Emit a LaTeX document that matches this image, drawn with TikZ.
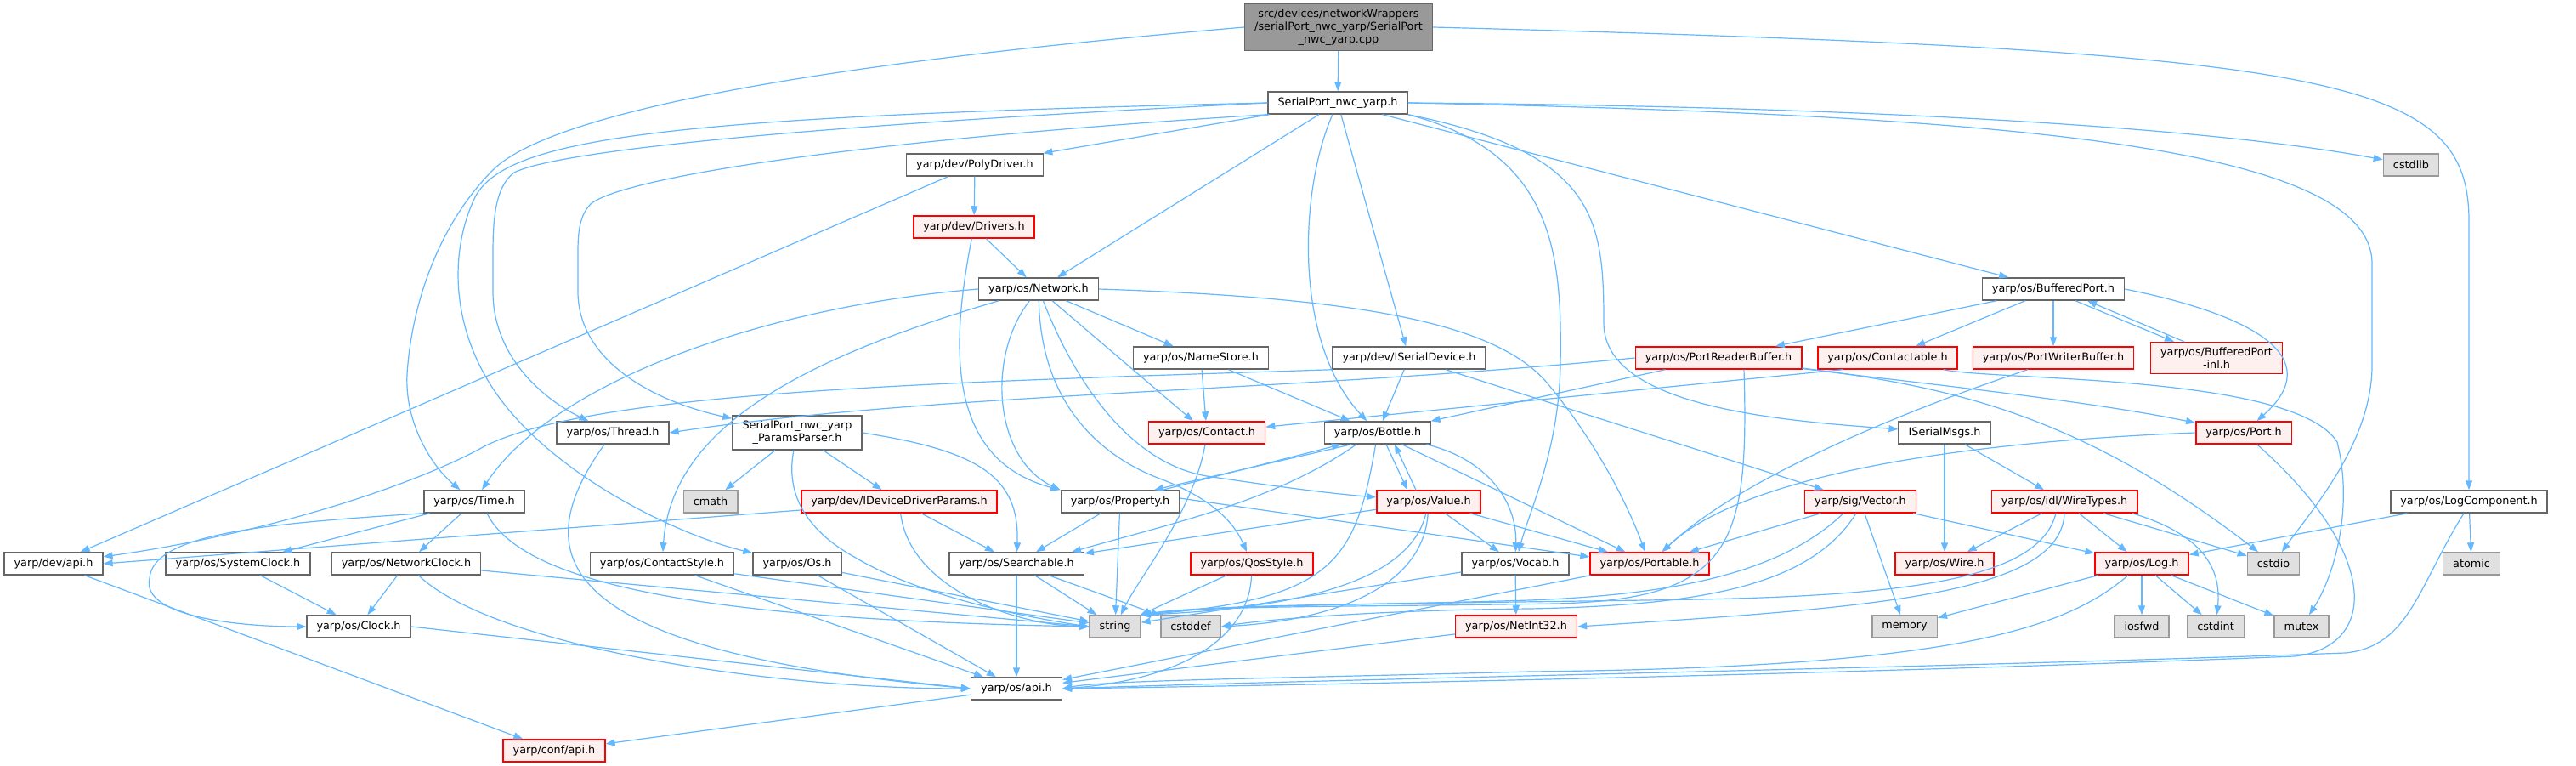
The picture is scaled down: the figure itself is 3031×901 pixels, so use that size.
\documentclass[tikz,border=0pt]{standalone}
\usepackage{fontspec}
\newfontfamily\graphfont{DejaVu Sans}
\definecolor{edgeblue}{RGB}{99,184,255}
\definecolor{boxline}{RGB}{102,102,102}
\definecolor{sysfill}{RGB}{224,224,224}
\definecolor{sysline}{RGB}{153,153,153}
\definecolor{rootfill}{RGB}{153,153,153}
\definecolor{redline}{RGB}{255,0,0}
\definecolor{redfill}{RGB}{255,240,240}
\usetikzlibrary{arrows.meta}

\begin{document}
\begin{tikzpicture}[x=1pt, y=1pt,
    arr/.style={-{Triangle[length=11pt,width=8pt]}, edgeblue, line width=1.2pt},
    file/.style={draw=boxline, fill=white, line width=1.5pt, align=center,
                 font=\graphfont\fontsize{12.8pt}{15pt}\selectfont,
                 inner xsep=11.5pt, inner ysep=6pt, minimum height=26pt},
    redfile/.style={file, draw=redline, fill=redfill},
    sysfile/.style={file, draw=sysline, fill=sysfill},
    rootfile/.style={file, draw=boxline, fill=rootfill}
  ]
  \useasboundingbox (0,0) rectangle (3031,-901);
  \fill[white] (0,0) rectangle (3031,-901);

  \node[rootfile] (root) at (1575,-32) {src/devices/networkWrappers\\/serialPort\_nwc\_yarp/SerialPort\\\_nwc\_yarp.cpp};
  \node[file] (sp) at (1574,-121) {SerialPort\_nwc\_yarp.h};
  \node[file] (poly) at (1147,-194) {yarp/dev/PolyDriver.h};
  \node[sysfile] (cstdlib) at (2837,-194) {cstdlib};
  \node[redfile] (drivers) at (1146,-267) {yarp/dev/Drivers.h};
  \node[file] (network) at (1222,-340) {yarp/os/Network.h};
  \node[file] (bp) at (2416,-340) {yarp/os/BufferedPort.h};
  \node[file] (namestore) at (1413,-421) {yarp/os/NameStore.h};
  \node[file] (iserial) at (1658,-421) {yarp/dev/ISerialDevice.h};
  \node[redfile] (prb) at (2022,-421) {yarp/os/PortReaderBuffer.h};
  \node[redfile] (contactable) at (2221,-421) {yarp/os/Contactable.h};
  \node[redfile] (pwb) at (2416,-421) {yarp/os/PortWriterBuffer.h};
  \node[redfile] (bpinl) at (2608,-421) {yarp/os/BufferedPort\\-inl.h};
  \node[file] (thread) at (721,-509) {yarp/os/Thread.h};
  \node[file] (params) at (938,-509) {SerialPort\_nwc\_yarp\\\_ParamsParser.h};
  \node[redfile] (contact) at (1420,-509) {yarp/os/Contact.h};
  \node[file] (bottle) at (1621,-509) {yarp/os/Bottle.h};
  \node[file] (iserialmsgs) at (2288,-509) {ISerialMsgs.h};
  \node[redfile] (port) at (2640,-509) {yarp/os/Port.h};
  \node[file] (time) at (558,-590) {yarp/os/Time.h};
  \node[sysfile] (cmath) at (836,-590) {cmath};
  \node[redfile] (iddp) at (1058,-590) {yarp/dev/IDeviceDriverParams.h};
  \node[file] (property) at (1318,-590) {yarp/os/Property.h};
  \node[redfile] (value) at (1681,-590) {yarp/os/Value.h};
  \node[redfile] (vector) at (2189,-590) {yarp/sig/Vector.h};
  \node[redfile] (wiretypes) at (2429,-590) {yarp/os/idl/WireTypes.h};
  \node[file] (logcomp) at (2905,-590) {yarp/os/LogComponent.h};
  \node[file] (devapi) at (63,-663) {yarp/dev/api.h};
  \node[file] (sysclock) at (280,-663) {yarp/os/SystemClock.h};
  \node[file] (netclock) at (478,-663) {yarp/os/NetworkClock.h};
  \node[file] (contactstyle) at (779,-663) {yarp/os/ContactStyle.h};
  \node[file] (os) at (938,-663) {yarp/os/Os.h};
  \node[file] (searchable) at (1196,-663) {yarp/os/Searchable.h};
  \node[redfile] (qos) at (1473,-663) {yarp/os/QosStyle.h};
  \node[file] (vocab) at (1783,-663) {yarp/os/Vocab.h};
  \node[redfile] (portable) at (1941,-663) {yarp/os/Portable.h};
  \node[redfile] (wire) at (2288,-663) {yarp/os/Wire.h};
  \node[redfile] (log) at (2520,-663) {yarp/os/Log.h};
  \node[sysfile] (cstdio) at (2675,-663) {cstdio};
  \node[sysfile] (atomic) at (2908,-663) {atomic};
  \node[file] (clock) at (422,-737) {yarp/os/Clock.h};
  \node[sysfile] (string) at (1312,-737) {string};
  \node[sysfile] (cstddef) at (1401,-737) {cstddef};
  \node[redfile] (netint) at (1784,-737) {yarp/os/NetInt32.h};
  \node[sysfile] (memory) at (2241,-737) {memory};
  \node[sysfile] (iosfwd) at (2520,-737) {iosfwd};
  \node[sysfile] (cstdint) at (2607,-737) {cstdint};
  \node[sysfile] (mutex) at (2708,-737) {mutex};
  \node[file] (osapi) at (1196,-810) {yarp/os/api.h};
  \node[redfile] (confapi) at (652,-883) {yarp/conf/api.h};

  % source file
  \draw[arr] (root) -- (sp);
  \draw[arr] (root.east) .. controls (2750,-60) and (2905,-90) .. (2905,-260) -- (logcomp);
  \draw[arr] (root.west) .. controls (900,-80) and (640,-140) .. (580,-200) .. controls (520,-260) and (485,-350) .. (479,-440) .. controls (476,-500) and (510,-550) .. (time);

  % SerialPort_nwc_yarp.h
  \draw[arr] (sp) -- (poly);
  \draw[arr] (sp) -- (network);
  \draw[arr] (sp) -- (iserial);
  \draw[arr] (sp) -- (bp);
  \draw[arr] (sp) .. controls (1530,-220) and (1520,-400) .. (bottle);
  \draw[arr] (sp.south east) .. controls (1830,-180) and (1838,-300) .. (1836,-430) .. controls (1834,-530) and (1800,-600) .. (vocab);
  \draw[arr] (sp.south east) .. controls (1880,-180) and (1887,-260) .. (1887,-380) .. controls (1887,-480) and (2100,-495) .. (iserialmsgs);
  \draw[arr] (sp.east) .. controls (2200,-125) and (2600,-150) .. (cstdlib);
  \draw[arr] (sp.east) .. controls (2350,-135) and (2791,-170) .. (2791,-310) -- (2791,-430) .. controls (2791,-520) and (2720,-600) .. (cstdio);
  \draw[arr] (sp.west) .. controls (800,-137) and (600,-160) .. (560,-230) .. controls (530,-290) and (528,-380) .. (582,-460) .. controls (650,-560) and (800,-630) .. (os);
  \draw[arr] (sp.west) .. controls (900,-150) and (650,-180) .. (605,-203) .. controls (582,-220) and (580,-260) .. (580,-300) -- (580,-343) .. controls (580,-420) and (640,-470) .. (thread);
  \draw[arr] (sp.south west) .. controls (1000,-165) and (730,-210) .. (695,-240) .. controls (680,-255) and (680,-280) .. (680,-300) -- (680,-343) .. controls (680,-420) and (760,-470) .. (params);

  % devices
  \draw[arr] (poly) -- (drivers);
  \draw[arr] (poly) -- (devapi);
  \draw[arr] (drivers) -- (network);
  \draw[arr] (drivers) .. controls (1120,-400) and (1110,-540) .. (property.north west);
  \draw[arr] (iserial) -- (bottle);
  \draw[arr] (iserial) -- (vector);
  \draw[arr] (iserial.south west) .. controls (1100,-450) and (700,-460) .. (570,-525) .. controls (480,-575) and (300,-630) .. (devapi);

  % Network.h
  \draw[arr] (network.west) .. controls (900,-360) and (650,-450) .. (time);
  \draw[arr] (network) .. controls (950,-420) and (790,-500) .. (contactstyle);
  \draw[arr] (network) .. controls (1160,-420) and (1170,-540) .. (property.north west);
  \draw[arr] (network) .. controls (1225,-480) and (1300,-540) .. (1370,-565) .. controls (1420,-585) and (1450,-610) .. (qos);
  \draw[arr] (network) .. controls (1265,-450) and (1330,-545) .. (1420,-560) .. controls (1500,-572) and (1560,-580) .. (value);
  \draw[arr] (network) -- (contact);
  \draw[arr] (network) -- (namestore);
  \draw[arr] (network.east) .. controls (1600,-350) and (1760,-380) .. (1820,-450) .. controls (1870,-510) and (1910,-580) .. (portable);
  \draw[arr] (namestore) -- (contact);
  \draw[arr] (namestore) -- (bottle);

  % BufferedPort.h
  \draw[arr] (bp) -- (prb);
  \draw[arr] (bp) -- (contactable);
  \draw[arr] (bp) -- (pwb);
  \draw[arr] ([xshift=26pt]bp.south) -- ([xshift=-50pt]bpinl.north);
  \draw[arr] ([xshift=-38pt]bpinl.north) -- ([xshift=40pt]bp.south);
  \draw[arr] (bp.east) .. controls (2650,-370) and (2740,-420) .. (port);
  \draw[arr] (prb.west) .. controls (1500,-462) and (1100,-462) .. (thread.east);
  \draw[arr] (prb) -- (bottle);
  \draw[arr] (prb) .. controls (2250,-450) and (2450,-470) .. (port);
  \draw[arr] (prb) .. controls (2300,-455) and (2450,-490) .. (cstdio);
  \draw[arr] ([xshift=30pt]prb.south) .. controls (2058,-640) and (2040,-705) .. (1830,-710) .. controls (1600,-714) and (1420,-712) .. (string.north east);
  \draw[arr] ([xshift=30pt]contactable.south west) -- (contact);
  \draw[arr] (contactable) .. controls (2350,-448) and (2700,-440) .. (2750,-520) .. controls (2770,-600) and (2745,-680) .. (mutex);
  \draw[arr] ([xshift=-30pt]pwb.south) .. controls (2250,-480) and (2050,-560) .. (portable);
  \draw[arr] (iserialmsgs) -- (wire);
  \draw[arr] (iserialmsgs) -- (wiretypes);
  \draw[arr] (port.west) .. controls (2300,-520) and (2050,-560) .. (portable);
  \draw[arr] (port) .. controls (2800,-650) and (2800,-760) .. (2700,-772) .. controls (2200,-792) and (1600,-805) .. (osapi.east);

  % sig and idl
  \draw[arr] (vector) -- (portable);
  \draw[arr] (vector) -- (log);
  \draw[arr] (vector) -- (memory);
  \draw[arr] ([xshift=-20pt]vector.south) .. controls (2090,-680) and (1950,-700) .. (1800,-706) .. controls (1600,-712) and (1420,-712) .. (string.north east);
  \draw[arr] ([xshift=-5pt]vector.south) .. controls (2130,-690) and (2000,-712) .. (1800,-716) .. controls (1600,-718) and (1480,-730) .. (cstddef.east);
  \draw[arr] (wiretypes) -- (wire);
  \draw[arr] (wiretypes) -- (log);
  \draw[arr] (wiretypes) -- (cstdio);
  \draw[arr] ([xshift=80pt]wiretypes.south) .. controls (2580,-625) and (2615,-660) .. (cstdint);
  \draw[arr] ([xshift=-10pt]wiretypes.south) .. controls (2400,-680) and (2250,-700) .. (2000,-705) .. controls (1700,-710) and (1420,-710) .. (string.north east);
  \draw[arr] (wiretypes.south) .. controls (2425,-700) and (2200,-715) .. (netint.east);

  % logging
  \draw[arr] (logcomp) -- (log);
  \draw[arr] (logcomp) -- (atomic);
  \draw[arr] ([xshift=-6pt]logcomp.south) .. controls (2845,-690) and (2835,-760) .. (2760,-768) .. controls (2300,-785) and (1600,-798) .. (osapi.east);
  \draw[arr] (log) -- (memory);
  \draw[arr] (log) -- (iosfwd);
  \draw[arr] (log) -- (cstdint);
  \draw[arr] (log) -- (mutex);
  \draw[arr] (log) .. controls (2430,-740) and (2300,-785) .. (1800,-790) .. controls (1500,-798) and (1300,-800) .. (osapi.east);

  % clocks and time
  \draw[arr] (time.south west) .. controls (330,-615) and (180,-625) .. (176,-680) .. controls (165,-725) and (280,-737) .. (clock.west);
  \draw[arr] (time) -- (sysclock);
  \draw[arr] (time) -- (netclock);
  \draw[arr] ([xshift=15pt]time.south) .. controls (620,-700) and (900,-730) .. (string.west);
  \draw[arr] (sysclock) -- (clock);
  \draw[arr] (netclock) -- (clock);
  \draw[arr] ([yshift=-8pt]netclock.east) -- (string.west);
  \draw[arr] (netclock) .. controls (580,-760) and (900,-810) .. (osapi.west);
  \draw[arr] (clock.east) -- (osapi.west);
  \draw[arr] (thread) .. controls (620,-650) and (640,-765) .. (osapi.west);
  \draw[arr] (contactstyle) -- (string);
  \draw[arr] (contactstyle) -- (osapi);
  \draw[arr] (os) -- (string);
  \draw[arr] (os) -- (osapi);

  % parameters
  \draw[arr] (params) -- (cmath);
  \draw[arr] (params) -- (iddp);
  \draw[arr] (params.east) .. controls (1150,-530) and (1200,-560) .. (searchable);
  \draw[arr] (params) .. controls (922,-590) and (960,-630) .. (1005,-655) .. controls (1080,-700) and (1200,-725) .. (string.west);
  \draw[arr] ([yshift=-10pt]iddp.west) -- (devapi.east);
  \draw[arr] (iddp) -- (searchable);
  \draw[arr] (iddp) .. controls (1070,-690) and (1190,-735) .. (string.west);

  % containers
  \draw[arr] ([xshift=-2pt]contact.south) .. controls (1405,-600) and (1340,-680) .. (string);
  \draw[arr] ([xshift=-31pt]bottle.south) -- ([xshift=40pt]property.north);
  \draw[arr] ([xshift=50pt]property.north) -- ([xshift=-43pt]bottle.south);
  \draw[arr] ([xshift=-25pt]bottle.south) .. controls (1500,-590) and (1380,-615) .. ([xshift=-15pt]searchable.north east);
  \draw[arr] (bottle) .. controls (1595,-660) and (1570,-705) .. (string.north east);
  \draw[arr] ([xshift=10pt]bottle.south) -- ([xshift=-25pt]value.north);
  \draw[arr] ([xshift=-15pt]value.north) -- ([xshift=20pt]bottle.south);
  \draw[arr] (bottle) .. controls (1750,-540) and (1785,-590) .. (vocab);
  \draw[arr] (bottle) -- (portable);
  \draw[arr] (property) -- (searchable);
  \draw[arr] (property) -- (string);
  \draw[arr] ([yshift=4pt]property.east) -- ([yshift=8pt]portable.west);
  \draw[arr] (value) -- (searchable);
  \draw[arr] (value) .. controls (1660,-680) and (1540,-715) .. (string.north east);
  \draw[arr] (value) .. controls (1675,-690) and (1570,-730) .. (cstddef.east);
  \draw[arr] (value) -- (vocab);
  \draw[arr] (value) -- (portable);
  \draw[arr] (searchable) -- (string);
  \draw[arr] (searchable) -- (cstddef);
  \draw[arr] (searchable) -- (osapi);
  \draw[arr] (qos) -- (string);
  \draw[arr] (qos) .. controls (1470,-750) and (1390,-800) .. (osapi.east);
  \draw[arr] (vocab) -- (string);
  \draw[arr] (vocab) -- (netint);
  \draw[arr] (portable) -- (osapi);
  \draw[arr] (netint) -- (osapi);

  % api headers
  \draw[arr] (osapi) -- (confapi);
  \draw[arr] (devapi) -- (confapi);
\end{tikzpicture}
\end{document}
